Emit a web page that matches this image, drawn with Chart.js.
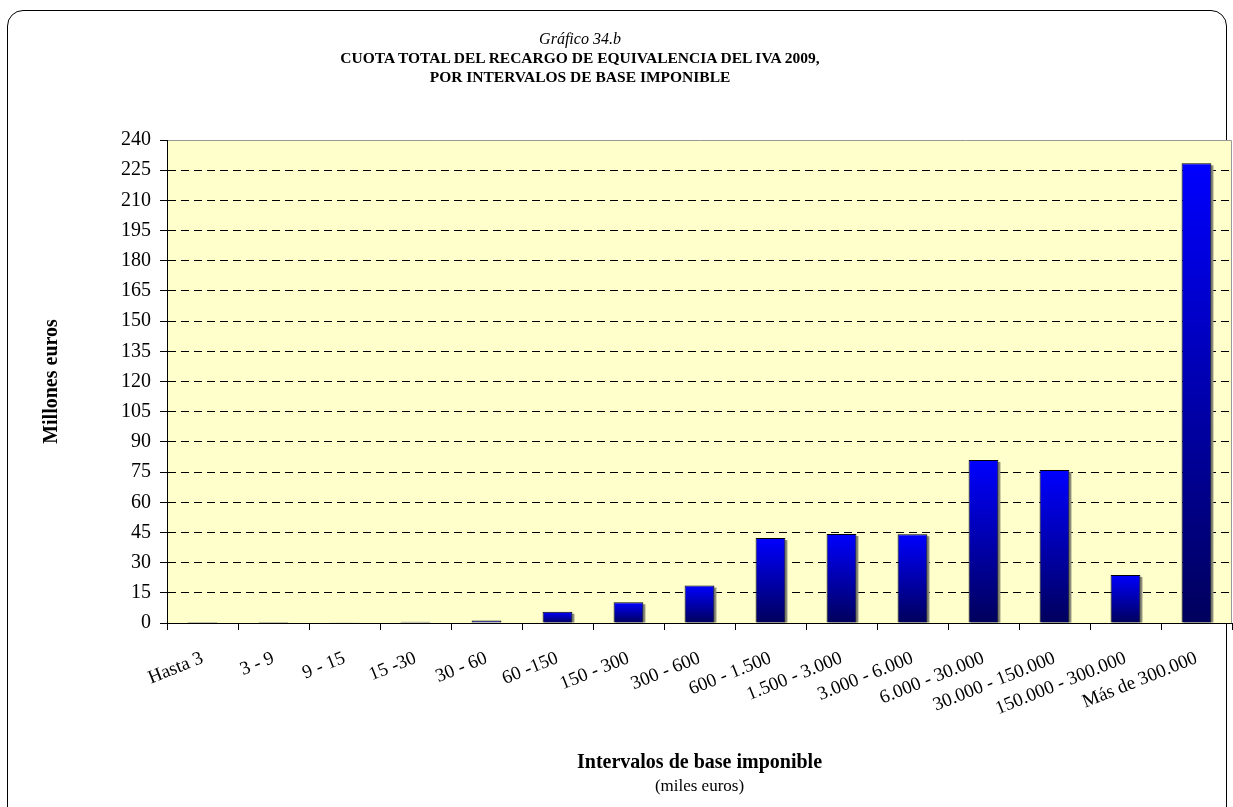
<!DOCTYPE html>
<html>
<head>
<meta charset="utf-8">
<script src="https://cdn.jsdelivr.net/npm/chart.js@4/dist/chart.umd.min.js"></script>
<style>
  html, body { margin: 0; padding: 0; background: #fff; }
  #wrap { position: relative; width: 1233px; height: 807px; overflow: hidden; font-family: "Liberation Serif", "Times New Roman", serif; }
  #frame { position: absolute; left: 7px; top: 10px; width: 1220px; height: 830px; border: 1px solid #000; border-radius: 16px; box-sizing: border-box; }
  #titles { position: absolute; left: 0; top: 29px; width: 1160px; text-align: center; color: #000; }
  #titles .sup { font-style: italic; font-size: 16px; line-height: 19px; }
  #titles .main { font-weight: bold; font-size: 15.5px; line-height: 19px; }
  #xsub { position: absolute; left: 167px; width: 1065px; top: 776px; text-align: center; font-size: 17px; line-height: 20px; }
  canvas { position: absolute; left: 0; top: 0; }
</style>
</head>
<body>
<div id="wrap">
  <div id="frame"></div>
  <canvas id="chart" width="1233" height="807"></canvas>
  <div id="titles">
    <div class="sup">Gráfico 34.b</div>
    <div class="main">CUOTA TOTAL DEL RECARGO DE EQUIVALENCIA DEL IVA 2009,</div>
    <div class="main">POR INTERVALOS DE BASE IMPONIBLE</div>
  </div>
  <div id="xsub">(miles euros)</div>
</div>
<script>
const intervalos = ['Hasta 3', '3 - 9', '9 - 15', '15 -30', '30 - 60', '60 -150', '150 - 300', '300 - 600',
    '600 - 1.500', '1.500 - 3.000', '3.000 - 6.000', '6.000 - 30.000', '30.000 - 150.000',
    '150.000 - 300.000', 'Más de 300.000'];
const cuota = [0.02, 0.05, 0.1, 0.6, 1.2, 5.6, 10.3, 18.6, 42.2, 44.2, 44.1, 81.0, 76.0, 23.9, 228.4];
const yMin = 0, yMax = 240, yStep = 15;

const serif = '"Liberation Serif", "Times New Roman", serif';

// yellow plot background + gray frame on top/right
const plotBg = {
    id: 'plotBg',
    beforeDraw(chart) {
        const a = chart.chartArea, ctx = chart.ctx;
        ctx.save();
        ctx.fillStyle = '#FFFFCC';
        ctx.fillRect(a.left, a.top, a.right - a.left, a.bottom - a.top);
        ctx.strokeStyle = '#999';
        ctx.lineWidth = 1;
        ctx.beginPath();
        ctx.moveTo(a.left, a.top + 0.5);
        ctx.lineTo(a.right - 0.5, a.top + 0.5);
        ctx.lineTo(a.right - 0.5, a.bottom);
        ctx.stroke();
        ctx.restore();
    },
    // small gray shadow to the right of each bar
    beforeDatasetsDraw(chart) {
        const ctx = chart.ctx;
        ctx.save();
        ctx.fillStyle = '#8c8c7a';
        chart.getDatasetMeta(0).data.forEach(b => {
            const p = b.getProps(['x', 'y', 'base', 'width'], true);
            if (p.base - p.y < 2) return;
            ctx.fillRect(p.x - p.width / 2 + 2, p.y + 2, p.width, p.base - p.y - 2);
        });
        ctx.restore();
    }
};

function barFill(c) {
    const chart = c.chart;
    if (!chart.chartArea || c.dataIndex === undefined) return '#0000ff';
    const y = chart.scales.y;
    const top = y.getPixelForValue(c.raw), base = y.getPixelForValue(0);
    if (base - top < 1) return '#000066';
    const g = chart.ctx.createLinearGradient(0, top, 0, base);
    g.addColorStop(0, '#0000ff');
    g.addColorStop(1, '#00005c');
    return g;
}

new Chart(document.getElementById('chart').getContext('2d'), {
    type: 'bar',
    data: {
        labels: intervalos,
        datasets: [{
            data: cuota,
            backgroundColor: barFill,
            borderColor: '#000',
            borderWidth: 1,
            barPercentage: 0.42,
            categoryPercentage: 1
        }]
    },
    options: {
        responsive: false,
        animation: false,
        layout: { padding: { top: 140, left: 0, right: 1, bottom: 0 } },
        plugins: { legend: { display: false }, tooltip: { enabled: false } },
        scales: {
            x: {
                afterFit: s => { s.height = 184; },
                grid: { offset: true, drawOnChartArea: false, drawTicks: true, tickLength: 7, tickColor: '#000' },
                border: { display: true, color: '#000', width: 1 },
                ticks: { autoSkip: false, maxRotation: 22, minRotation: 22, padding: 17, color: '#000',
                         font: { family: serif, size: 19 } },
                title: { display: true, text: 'Intervalos de base imponible', color: '#000',
                         font: { family: serif, size: 20, weight: 'bold' }, padding: { top: 0, bottom: 32 } }
            },
            y: {
                min: yMin, max: yMax,
                afterFit: s => { s.width = 167; },
                grid: {
                    color: c => (c.tick && c.tick.value === yMax) ? 'rgba(0,0,0,0)' : '#000',
                    tickColor: '#000', tickLength: 7, drawTicks: true
                },
                border: { display: true, color: '#000', width: 1, dash: [8, 5] },
                ticks: { stepSize: yStep, padding: 9, color: '#000', font: { family: serif, size: 20 } },
                title: { display: true, text: 'Millones euros', color: '#000',
                         font: { family: serif, size: 20, weight: 'bold' }, padding: { top: 40, bottom: 0 } }
            }
        }
    },
    plugins: [plotBg]
});
</script>
</body>
</html>
